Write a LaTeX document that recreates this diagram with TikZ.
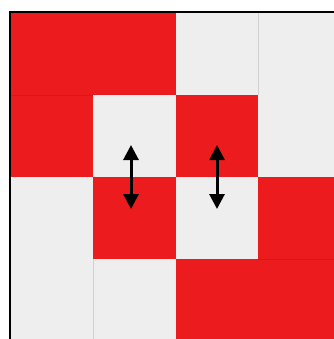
\documentclass[tikz,border=0pt]{standalone}
\usetikzlibrary{arrows.meta}
\definecolor{cellred}{RGB}{236,28,30}
\definecolor{cellgray}{RGB}{238,238,238}
\tikzset{
  redcell/.style={fill=cellred},
  graycell/.style={fill=cellgray},
  grayseam/.style={draw=black,draw opacity=0.12,line width=0.9pt},
  redseam/.style={draw=black,draw opacity=0.10,line width=0.9pt},
  swaparrow/.style={line width=3pt,{Triangle[width=15pt,length=15pt]}-{Triangle[width=15pt,length=15pt]}},
  frame/.style={line width=2pt,draw=black}
}
\begin{document}
\begin{tikzpicture}[x=1pt,y=-1pt]
\useasboundingbox (0,0) rectangle (333,339);
\fill[white] (0,0) rectangle (333,339);
% columns: 10,93,176,258,340 ; rows: 12,95,177,259,341
% row 0: R R G G
\fill[redcell]  (10,12) rectangle (176,95);
\fill[graycell] (176,12) rectangle (340,95);
% row 1: R G R G
\fill[redcell]  (10,95) rectangle (93,177);
\fill[graycell] (93,95) rectangle (176,177);
\fill[redcell]  (176,95) rectangle (258,177);
\fill[graycell] (258,95) rectangle (340,177);
% row 2: G R G R
\fill[graycell] (10,177) rectangle (93,259);
\fill[redcell]  (93,177) rectangle (176,259);
\fill[graycell] (176,177) rectangle (258,259);
\fill[redcell]  (258,177) rectangle (340,259);
% row 3: G G R R
\fill[graycell] (10,259) rectangle (176,341);
\fill[redcell]  (176,259) rectangle (340,341);
% faint seams
\draw[grayseam] (258,12) -- (258,95);
\draw[grayseam] (93,259) -- (93,341);
\draw[redseam] (10,95) -- (93,95);
\draw[redseam] (258,259) -- (340,259);
% frame
\draw[frame] (10,341) -- (10,12) -- (340,12);
% arrows
\coordinate (a1top) at (131,145);
\coordinate (a1bot) at (131,209);
\coordinate (a2top) at (217,145);
\coordinate (a2bot) at (217,209);
\draw[swaparrow] (a1top) -- (a1bot);
\draw[swaparrow] (a2top) -- (a2bot);
\end{tikzpicture}
\end{document}
